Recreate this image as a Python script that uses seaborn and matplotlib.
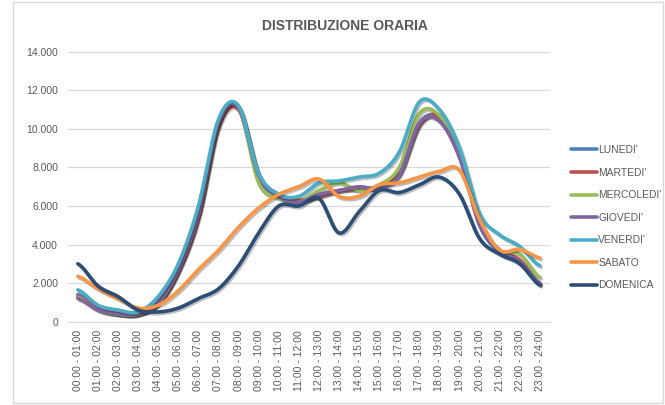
import numpy as np
import pandas as pd
import matplotlib
matplotlib.use("Agg")
import matplotlib.pyplot as plt
import matplotlib.patheffects as pe
from matplotlib.patches import Rectangle
from matplotlib.ticker import FuncFormatter
import seaborn as sns

# --- data ---
fasce = ["00:00 - 01:00", "01:00 - 02:00", "02:00 - 03:00", "03:00 - 04:00",
         "04:00 - 05:00", "05:00 - 06:00", "06:00 - 07:00", "07:00 - 08:00",
         "08:00 - 09:00", "09:00 - 10:00", "10:00 - 11:00", "11:00 - 12:00",
         "12:00 - 13:00", "13:00 - 14:00", "14:00 - 15:00", "15:00 - 16:00",
         "16:00 - 17:00", "17:00 - 18:00", "18:00 - 19:00", "19:00 - 20:00",
         "20:00 - 21:00", "21:00 - 22:00", "22:00 - 23:00", "23:00 - 24:00"]

lunedi = [1400, 700, 420, 400, 1000, 2700, 5600, 10300, 11100, 7500, 6500, 6200,
          6500, 6800, 6900, 7000, 7700, 10300, 10600, 8600, 5000, 3600, 3100, 1900]
martedi = [1300, 650, 400, 380, 950, 2600, 5400, 10100, 11000, 7600, 6600, 6300,
           6500, 6800, 6900, 7000, 7700, 10200, 10600, 8700, 5100, 3700, 3200, 2000]
mercoledi = [1250, 600, 380, 380, 950, 2700, 5600, 10300, 11100, 7200, 6400, 6200,
             6800, 7200, 6800, 7100, 8000, 10800, 10700, 8800, 5200, 3700, 3500, 2300]
giovedi = [1200, 620, 400, 400, 1000, 2700, 5600, 10300, 11100, 7600, 6500, 6200,
           6600, 6800, 7000, 6900, 7600, 10300, 10400, 8500, 5000, 3700, 3100, 2000]
venerdi = [1650, 850, 600, 500, 1300, 3000, 6000, 10500, 11200, 7700, 6600, 6500,
           7200, 7300, 7500, 7700, 8800, 11400, 11000, 9000, 5600, 4500, 3900, 2900]
sabato = [2350, 1700, 1200, 700, 850, 1600, 2700, 3700, 4900, 5900, 6600, 7000,
          7400, 6500, 6500, 7100, 7200, 7500, 7800, 7850, 5300, 3700, 3750, 3300]
domenica = [3000, 1850, 1300, 600, 500, 700, 1200, 1700, 2900, 4600, 6000, 6000,
            6400, 4600, 5700, 6800, 6700, 7100, 7500, 6600, 4300, 3500, 3000, 1900]

giorni = ["LUNEDI'", "MARTEDI'", "MERCOLEDI'", "GIOVEDI'", "VENERDI'", "SABATO", "DOMENICA"]
serie = [lunedi, martedi, mercoledi, giovedi, venerdi, sabato, domenica]
colori = ["#4F81BD", "#C0504D", "#9BBB59", "#8064A2", "#4BACC6", "#F79646", "#2C4D75"]


def catmull_rom(y, steps=16):
    # Excel style "smoothed line" rendering between the data points
    y = np.asarray(y, dtype=float)
    p = np.concatenate([[y[0]], y, [y[-1]]])
    xs, ys = [], []
    for i in range(len(y) - 1):
        p0, p1, p2, p3 = p[i], p[i + 1], p[i + 2], p[i + 3]
        t = np.linspace(0, 1, steps, endpoint=False)
        v = 0.5 * (2 * p1 + (-p0 + p2) * t + (2 * p0 - 5 * p1 + 4 * p2 - p3) * t ** 2
                   + (-p0 + 3 * p1 - 3 * p2 + p3) * t ** 3)
        xs.extend(i + t)
        ys.extend(v)
    xs.append(len(y) - 1)
    ys.append(y[-1])
    return np.array(xs), np.array(ys)


rows = []
for nome, vals in zip(giorni, serie):
    xs, ys = catmull_rom(vals)
    rows.append(pd.DataFrame({"x": xs, "valore": ys, "giorno": nome}))
df = pd.concat(rows, ignore_index=True)

sns.set_style("white")
plt.rcParams['font.family'] = ['Liberation Sans', 'DejaVu Sans']

fig = plt.figure(figsize=(6.65, 4.05), dpi=100)
ax = fig.add_axes([0.102, 0.206, 0.725, 0.666])

sns.lineplot(data=df, x="x", y="valore", hue="giorno", hue_order=giorni,
             palette=colori, linewidth=2.6, ax=ax, legend=False, sort=False,
             estimator=None)
for ln in ax.get_lines():
    ln.set_path_effects([pe.SimpleLineShadow(offset=(1, -1.2), alpha=0.25, rho=0.6),
                         pe.Normal()])

ax.set_xlim(-0.5, 23.5)
ax.set_ylim(0, 14000)
ax.set_yticks(np.arange(0, 14001, 2000))
ax.yaxis.set_major_formatter(FuncFormatter(lambda v, _: f"{int(v):,}".replace(",", ".")))
ax.set_xticks(range(len(fasce)))
ax.set_xticklabels(fasce, rotation=90)
ax.tick_params(axis='both', length=0, colors="#595959", labelsize=7.5)
ax.tick_params(axis='y', pad=7)
ax.tick_params(axis='x', pad=6)
ax.set_xlabel("")
ax.set_ylabel("")
ax.grid(axis='y', color="#D9D9D9", linewidth=0.9)
ax.set_axisbelow(True)
for s in ["top", "right", "left"]:
    ax.spines[s].set_visible(False)
ax.spines["bottom"].set_color("#D9D9D9")

fig.text(0.518, 0.935, "DISTRIBUZIONE ORARIA", ha="center", va="center",
         fontsize=10, fontweight="bold", color="#595959")

handles = [plt.Line2D([], [], color=c, linewidth=2.6) for c in colori]
ax.legend(handles, giorni, loc="upper left", bbox_to_anchor=(0.855, 0.647),
          bbox_transform=fig.transFigure, frameon=False, fontsize=7.4,
          handlelength=2.6, handletextpad=0.1, labelspacing=1.22,
          borderpad=0.2, borderaxespad=0, labelcolor="#595959")

fig.patches.append(Rectangle((0.019, 0.004), 0.978, 0.99, transform=fig.transFigure,
                             fill=False, edgecolor="#D9D9D9", linewidth=1))

fig.savefig("out.png", dpi=100)
